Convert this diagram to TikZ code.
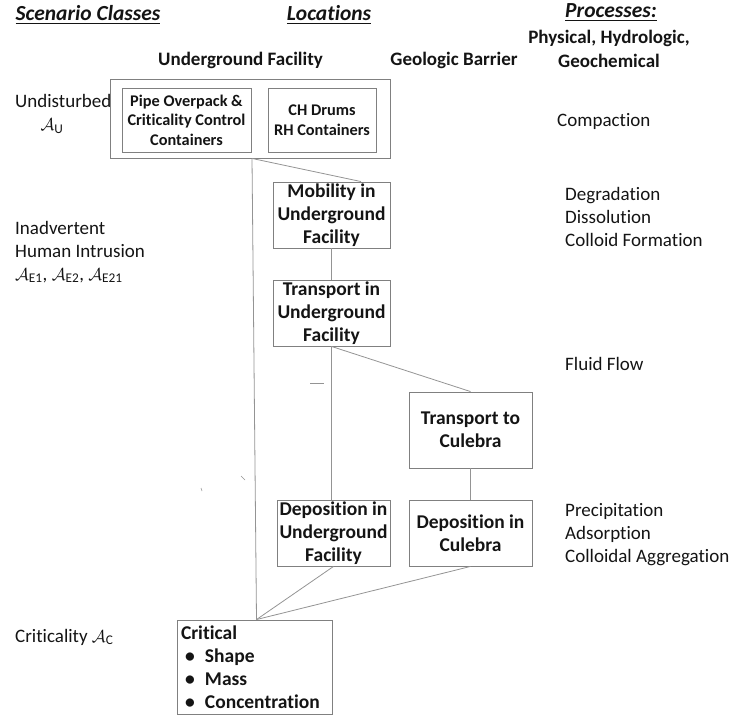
\documentclass[tikz,border=0pt]{standalone}
\usepackage{amsmath}
\usepackage{fontspec}
\setmainfont{Carlito}[Ligatures=NoCommon]
\usetikzlibrary{calc}
\definecolor{boxgray}{rgb}{0.50,0.50,0.50}
\definecolor{linegray}{rgb}{0.58,0.58,0.58}
\definecolor{txt}{rgb}{0.08,0.08,0.08}
\tikzset{
  box/.style={draw=boxgray, line width=0.9pt, align=center, inner sep=1pt, text=txt,
              font=\fontsize{19.5}{23}\selectfont\bfseries},
  smallbox/.style={box, font=\fontsize{16.3}{19.5}\selectfont\bfseries},
  conn/.style={draw=linegray, line width=0.8pt},
  lbl/.style={inner sep=0pt, anchor=west, align=left, text=txt, font=\fontsize{19}{23}\selectfont},
  head/.style={inner sep=0pt, text=txt, font=\fontsize{21.5}{24}\selectfont\bfseries\itshape},
  sub/.style={inner sep=0pt, text=txt, align=center, font=\fontsize{19}{23.5}\selectfont\bfseries},
}
\newcommand{\scA}[1]{$\mathcal{A}_{\text{#1}}$}
\begin{document}
\begin{tikzpicture}[x=1pt,y=-1pt]
\useasboundingbox (0,0) rectangle (730,719);
% headers
\node[head] (hsc) at (88,15) {\underline{Scenario Classes}};
\node[head] (hloc) at (329,15) {\underline{Locations}};
\node[head] (hproc) at (611,13) {\underline{Processes:}};
\node[sub] (huf) at (240.5,60) {Underground Facility};
\node[sub] (hgb) at (454,60) {Geologic Barrier};
\node[sub] (hphys) at (609,49) {Physical, Hydrologic,\\Geochemical};
% left labels
\node[lbl] (lund) at (15,101) {Undisturbed};
\node[inner sep=0pt, text=txt, font=\fontsize{19}{23}\selectfont] (lau) at (52,126) {\scA{U}};
\node[lbl] (lhi) at (15,252) {Inadvertent\\Human Intrusion\\\scA{E1}, \scA{E2}, \scA{E21}};
\node[lbl] (lcr) at (15,637) {Criticality \scA{C}};
% right labels
\node[lbl] (rcomp) at (557,121) {Compaction};
\node[lbl] (rdeg) at (565,217) {Degradation\\Dissolution\\Colloid Formation};
\node[lbl] (rff) at (565,364) {Fluid Flow};
\node[lbl] (rprec) at (565,534.5) {Precipitation\\Adsorption\\Colloidal Aggregation};
% boxes
\node[draw=boxgray, line width=0.9pt, minimum width=280pt, minimum height=79pt, inner sep=0pt] (outer) at (250,118.5) {};
\node[smallbox, minimum width=129pt, minimum height=64pt] (pipe) at (186.5,120) {Pipe Overpack \&\\Criticality Control\\Containers};
\node[smallbox, minimum width=108pt, minimum height=64pt] (ch) at (322,120) {CH Drums\\RH Containers};
\node[box, minimum width=117pt, minimum height=66pt] (mob) at (331.5,215) {Mobility in\\Underground\\Facility};
\node[box, minimum width=117pt, minimum height=66pt] (truf) at (331.5,313) {Transport in\\Underground\\Facility};
\node[box, minimum width=123pt, minimum height=76pt] (trc) at (470.5,430) {Transport to\\Culebra};
\node[box, minimum width=113pt, minimum height=66pt] (depuf) at (333.5,533) {Deposition in\\Underground\\Facility};
\node[box, minimum width=123pt, minimum height=66pt] (depc) at (470.5,533) {Deposition in\\Culebra};
\node[box, minimum width=155pt, minimum height=94pt, text width=147pt, inner sep=4pt, align=left] (crit) at (254.5,667)
  {Critical\\\hspace*{4pt}\makebox[20pt][l]{\textbullet}Shape\\\hspace*{4pt}\makebox[20pt][l]{\textbullet}Mass\\\hspace*{4pt}\makebox[20pt][l]{\textbullet}Concentration};
% connectors
\coordinate (jtop) at ($(outer.south)+(2,0)$);
\coordinate (jbot) at ($(crit.north)+(2,0)$);
\draw[conn] (jtop) -- (jbot);
\draw[conn] (jtop) -- ($(mob.north)!0.5!(mob.north east)$);
\draw[conn] (mob.south) -- (truf.south |- truf.north);
\draw[conn] (truf.south) -- (truf.south |- depuf.north);
\draw[conn] (truf.south) -- (trc.north);
\draw[conn] (trc.south) -- (depc.north);
\draw[conn] (depuf.south) -- (jbot);
\draw[conn] (depc.south) -- (jbot);
% stray marks
\coordinate (m1) at (310,383);
\coordinate (m2) at (324,383);
\draw[conn] (m1) -- (m2);
\coordinate (m3) at (241,476);
\coordinate (m4) at (245,480);
\draw[draw=linegray, line width=0.6pt] (m3) -- (m4);
\coordinate (m5) at (201,488);
\coordinate (m6) at (202,491);
\draw[draw=linegray, line width=0.6pt] (m5) -- (m6);
\end{tikzpicture}
\end{document}
